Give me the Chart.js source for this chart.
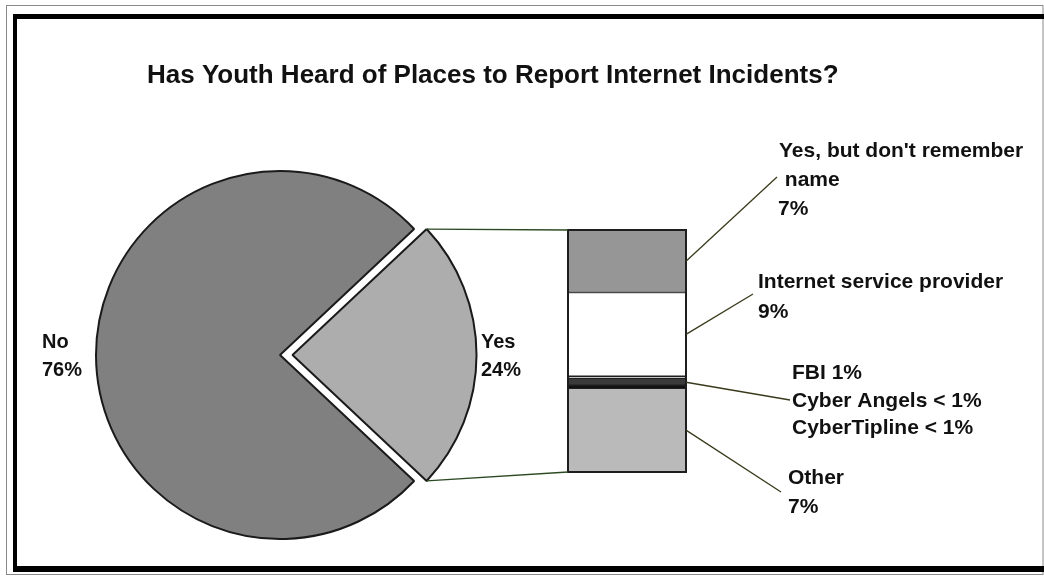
<!DOCTYPE html>
<html><head><meta charset="utf-8">
<script src="https://cdn.jsdelivr.net/npm/chart.js@4/dist/chart.umd.min.js"></script>
<style>
html,body{margin:0;padding:0;background:#fff;}
#wrap{position:relative;width:1044px;height:578px;}
canvas{position:absolute;left:0;top:0;}
</style></head><body>
<div id="wrap"><canvas id="pie" width="1044" height="578"></canvas><canvas id="bar" width="1044" height="578"></canvas></div>
<script>
// ---- data ----
const chartTitle = 'Has Youth Heard of Places to Report Internet Incidents?';
const pieLabels = ['Yes', 'No'];
const pieValues = [24, 76];
const pieValueLabels = ['24%', '76%'];
// breakdown of "Yes", bottom to top of the bar
const barCategories = ['Other', 'Cyber Angels', 'FBI', 'CyberTipline', 'Internet service provider', "Yes, but don't remember name"];
const barValues = [8.3, 0.3, 0.7, 0.2, 8.3, 6.2];
const barLabelLines = [
  ['Other', '7%'],
  ['FBI 1%', 'Cyber Angels < 1%', 'CyberTipline < 1%'],
  ['Internet service provider', '9%'],
  ["Yes, but don't remember", ' name', '7%']
];

// ---- styles ----
const FONT = '"Liberation Sans", Arial, sans-serif';
const pieColors = ['#adadad', '#808080'];
const barColors = ['#bababa', '#111111', '#3a3a3a', '#ffffff', '#ffffff', '#969696'];
const yesOffset = 50;

const pieChart = new Chart(document.getElementById('pie'), {
  type: 'pie',
  data: {
    labels: pieLabels,
    datasets: [{
      data: pieValues,
      backgroundColor: pieColors,
      borderColor: '#1a1a1a',
      borderWidth: 2,
      offset: [yesOffset, 0],
      radius: 184
    }]
  },
  options: {
    responsive: false,
    animation: false,
    rotation: 90 - pieValues[0] / (pieValues[0] + pieValues[1]) * 180,
    layout: { padding: { left: 80, right: 564, top: 155, bottom: 23 } },
    plugins: { legend: { display: false }, tooltip: { enabled: false }, title: { display: false } }
  }
});

function yesCorners() {
  const arc = pieChart.getDatasetMeta(0).data[0];
  const p = arc.getProps(['x', 'y', 'startAngle', 'endAngle', 'outerRadius', 'circumference']);
  const h = (p.startAngle + p.endAngle) / 2;
  const fix = 1 - Math.sin(Math.min(Math.PI, p.circumference));
  const t = yesOffset / 4 * (1 + fix);
  const cx = p.x + Math.cos(h) * t, cy = p.y + Math.sin(h) * t;
  const r = p.outerRadius;
  return {
    top: [cx + r * Math.cos(p.startAngle), cy + r * Math.sin(p.startAngle)],
    bottom: [cx + r * Math.cos(p.endAngle), cy + r * Math.sin(p.endAngle)]
  };
}

const overlay = {
  id: 'overlay',
  afterDraw(chart) {
    const ctx = chart.ctx;
    ctx.save();
    // frame
    ctx.strokeStyle = '#8a8a8a';
    ctx.lineWidth = 1;
    ctx.strokeRect(6.5, 5.5, 1036.5, 569);
    ctx.fillStyle = '#000';
    ctx.fillRect(13, 14, 1031, 5);
    ctx.fillRect(13, 14, 4, 558);
    ctx.fillRect(13, 566, 1031, 6);

    // title
    ctx.fillStyle = '#111';
    ctx.font = 'bold 26px ' + FONT;
    ctx.textBaseline = 'middle';
    ctx.textAlign = 'left';
    ctx.fillText(chartTitle, 147, 76);

    // bar geometry
    const metas = barCategories.map((c, i) => chart.getDatasetMeta(i).data[0]);
    const bw = metas[0].width;
    const left = metas[0].x - bw / 2, right = metas[0].x + bw / 2;
    const topY = metas[metas.length - 1].y;
    const botY = metas[0].base;

    // outer bar outline
    ctx.strokeStyle = '#1e1e1e';
    ctx.lineWidth = 2;
    ctx.strokeRect(left, topY, bw, botY - topY);

    // connectors from pie to bar
    const yc = yesCorners();
    ctx.strokeStyle = '#2c4a22';
    ctx.lineWidth = 1.3;
    ctx.beginPath();
    ctx.moveTo(yc.top[0], yc.top[1]); ctx.lineTo(left, topY);
    ctx.moveTo(yc.bottom[0], yc.bottom[1]); ctx.lineTo(left, botY);
    ctx.stroke();

    // pie labels
    ctx.fillStyle = '#111';
    ctx.font = 'bold 20px ' + FONT;
    ctx.fillText(pieLabels[1], 42, 342);
    ctx.fillText(pieValueLabels[1], 42, 370);
    ctx.fillText(pieLabels[0], 481, 342);
    ctx.fillText(pieValueLabels[0], 481, 370);

    // leader lines and bar labels
    const mid = (el) => (el.y + el.base) / 2;
    const groups = [
      { y0: mid(metas[0]), end: [781, 492], tx: 788, ty: [478, 507] },
      { y0: (metas[1].base + metas[3].y) / 2, end: [790, 400], tx: 792, ty: [373, 401, 428] },
      { y0: mid(metas[4]), end: [753, 294], tx: 758, ty: [282, 312] },
      { y0: mid(metas[5]), end: [777, 177], tx: 779, ty: [151, 180, 209], xs: [779, 779, 778] }
    ];
    ctx.strokeStyle = '#3a3a1c';
    ctx.lineWidth = 1.3;
    groups.forEach((g, i) => {
      ctx.beginPath();
      ctx.moveTo(right, g.y0);
      ctx.lineTo(g.end[0], g.end[1]);
      ctx.stroke();
      ctx.font = 'bold 21px ' + FONT;
      barLabelLines[i].forEach((line, k) => {
        const x = g.xs ? g.xs[k] : g.tx;
        ctx.fillText(line, x, g.ty[k]);
      });
    });
    ctx.restore();
  }
};

const barChart = new Chart(document.getElementById('bar'), {
  type: 'bar',
  data: {
    labels: ['Yes'],
    datasets: barCategories.map((c, i) => ({
      label: c,
      data: [barValues[i]],
      backgroundColor: barColors[i],
      borderColor: '#1e1e1e',
      borderWidth: 1,
      borderSkipped: false,
      barPercentage: 1,
      categoryPercentage: 1
    }))
  },
  options: {
    responsive: false,
    animation: false,
    layout: { padding: { left: 568, right: 358, top: 230, bottom: 106 } },
    scales: {
      x: { stacked: true, display: false },
      y: { stacked: true, display: false, min: 0, max: 24 }
    },
    plugins: { legend: { display: false }, tooltip: { enabled: false }, title: { display: false } }
  },
  plugins: [overlay]
});
</script>
</body></html>
